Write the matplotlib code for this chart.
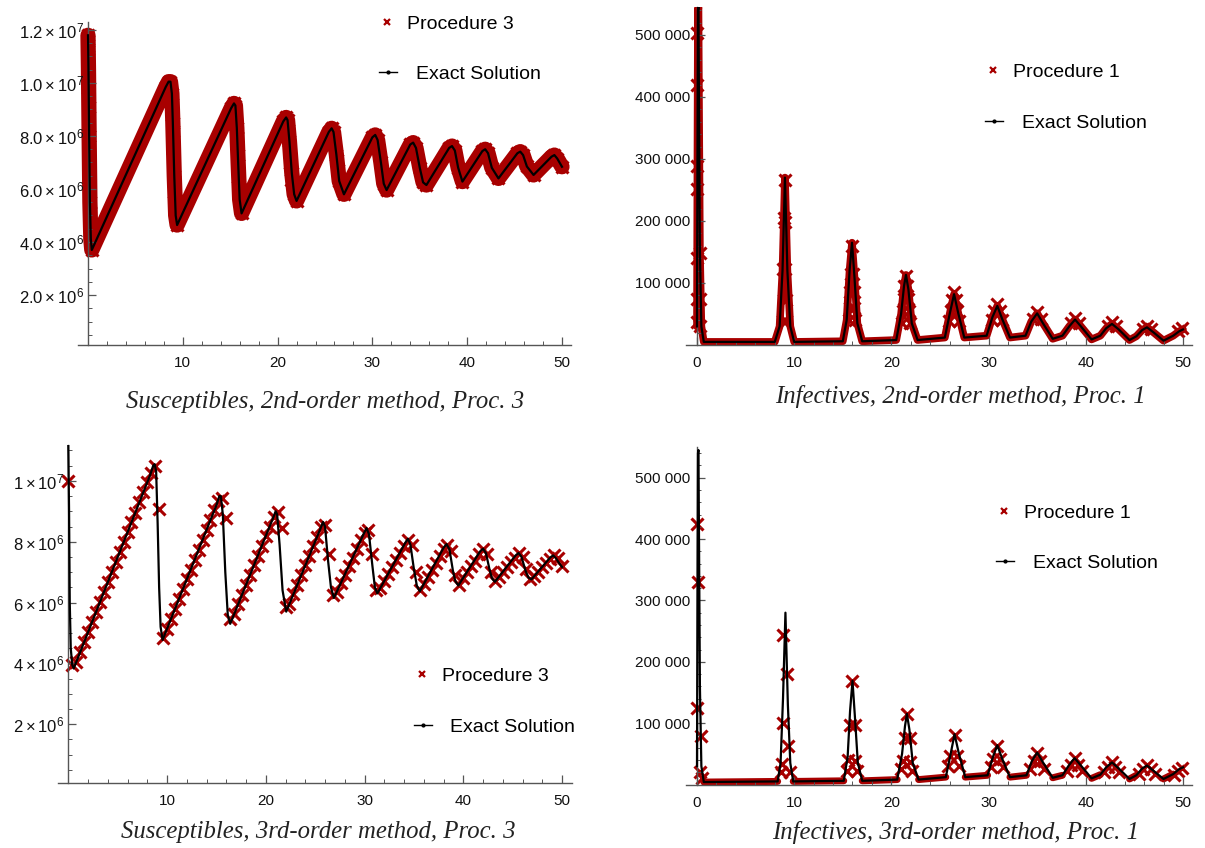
import numpy as np
import matplotlib.pyplot as plt
from matplotlib.lines import Line2D
from matplotlib.ticker import MultipleLocator

plt.rcParams['font.family'] = ['Liberation Sans', 'DejaVu Sans']
plt.rcParams['mathtext.fontset'] = 'custom'
plt.rcParams['mathtext.rm'] = 'Liberation Sans'
plt.rcParams['mathtext.it'] = 'Liberation Sans:italic'

RED = '#a80000'

# ---------------- data ----------------
# top left: susceptibles, 2nd-order (values in millions)
t_ex_a = [0, 0.05, 0.12, 0.2, 0.3, 0.4, 8.2, 8.5, 8.7, 8.85, 8.95, 9.1, 9.25, 9.4,
          15.1, 15.4, 15.55, 15.7, 15.85, 16.0, 16.2, 20.6, 20.9, 21.05, 21.25, 21.5,
          21.75, 22.0, 25.4, 25.7, 25.9, 26.2, 26.5, 27.0, 30.0, 30.3, 30.55, 30.9,
          31.2, 31.5, 34.0, 34.3, 34.6, 35.0, 35.35, 35.7, 38.1, 38.4, 38.7, 39.05,
          39.5, 41.6, 41.9, 42.2, 42.6, 43.3, 45.3, 45.6, 45.9, 46.3, 47.0, 48.9,
          49.2, 49.5, 50.0]
s_ex_a = [11.8, 10.5, 8.0, 5.5, 4.1, 3.7, 9.85, 10.05, 10.05, 9.6, 8.5, 6.5, 5.0, 4.64,
          9.05, 9.23, 9.15, 8.3, 6.9, 5.6, 5.08, 8.55, 8.7, 8.6, 7.8, 6.6,
          5.8, 5.55, 8.15, 8.29, 8.15, 7.3, 6.3, 5.8, 7.95, 8.04, 7.85, 7.0,
          6.2, 5.96, 7.68, 7.75, 7.55, 6.8, 6.25, 6.15, 7.55, 7.62, 7.45, 6.8,
          6.28, 7.43, 7.5, 7.35, 6.8, 6.4, 7.35, 7.41, 7.28, 6.85, 6.53, 7.22,
          7.28, 7.15, 6.84]
t_pts_a = [0.0, 0.01, 0.02, 0.03, 0.04, 0.05, 0.07, 0.1, 0.15, 0.2, 0.28,
           8.9, 8.93, 8.97, 9.05, 9.12, 9.18, 15.75, 15.8, 15.85, 15.95,
           21.3, 21.4, 26.3, 26.4]
s_pts_a = [11.6, 11.3, 11.0, 10.6, 10.35, 9.8, 9.1, 8.0, 6.4, 5.1, 4.2,
           8.8, 8.2, 7.5, 6.3, 5.9, 5.2, 7.97, 7.28, 6.46, 5.8,
           6.97, 6.34, 7.1, 6.7]

# top right: infectives, 2nd-order (values in 1e5)
t_ex_b = [0, 0.05, 0.1, 0.15, 0.2, 0.3, 0.45, 0.7, 8.0, 8.5, 8.8, 9.05, 9.3, 9.6, 10.0,
          15.0, 15.4, 15.7, 15.95, 16.2, 16.5, 17.0, 20.5, 21.0, 21.3, 21.5, 21.75,
          22.1, 22.7, 25.5, 26.0, 26.45, 26.9, 27.5, 29.8, 30.4, 30.9, 31.4, 32.2,
          33.8, 34.4, 35.0, 35.6, 36.6, 37.6, 38.3, 38.9, 39.5, 40.6, 41.5, 42.1,
          42.7, 43.4, 44.5, 45.2, 45.8, 46.3, 47.0, 48.0, 49.0, 49.6, 50.0]
i_ex_b = [0.3, 3.0, 5.4, 5.45, 4.0, 1.5, 0.3, 0.05, 0.05, 0.3, 1.2, 2.7, 1.2, 0.3, 0.05,
          0.06, 0.4, 1.2, 1.65, 1.1, 0.35, 0.06, 0.08, 0.5, 0.95, 1.13, 0.9,
          0.35, 0.08, 0.12, 0.5, 0.82, 0.5, 0.12, 0.15, 0.45, 0.63, 0.42, 0.12,
          0.15, 0.38, 0.51, 0.35, 0.1, 0.15, 0.3, 0.41, 0.3, 0.09, 0.15, 0.27,
          0.34, 0.25, 0.08, 0.14, 0.24, 0.285, 0.2, 0.07, 0.15, 0.22, 0.25]
t_pts_b = [0.0, 0.02, 0.05, 0.0, 0.0, 0.3, 0.0, 0.3, 0.0, 0.35,
           9.05, 8.95, 9.1, 8.9, 9.1, 8.95, 9.15, 8.9, 9.2,
           15.95, 15.8, 16.05, 15.75, 16.15, 15.7, 16.2, 15.6, 16.3,
           21.5, 21.35, 21.65, 21.3, 21.75, 21.2, 21.85, 21.1, 21.95,
           26.45, 26.2, 26.7, 26.1, 26.8, 25.9, 27.0,
           30.9, 30.6, 31.2, 30.4, 31.4, 35.0, 34.6, 35.4, 38.9, 38.5, 39.3,
           42.7, 42.3, 43.1, 46.3, 45.9, 46.7, 49.9, 49.5]
i_pts_b = [5.04, 4.2, 2.89, 2.52, 1.4, 1.48, 0.74, 0.74, 0.37, 0.3,
           2.66, 2.05, 1.98, 1.22, 1.22, 0.73, 0.73, 0.38, 0.38,
           1.6, 1.15, 1.15, 0.85, 0.85, 0.6, 0.6, 0.4, 0.4,
           1.12, 0.95, 0.95, 0.75, 0.75, 0.55, 0.55, 0.35, 0.35,
           0.85, 0.72, 0.72, 0.55, 0.55, 0.38, 0.38,
           0.66, 0.55, 0.55, 0.4, 0.4, 0.54, 0.42, 0.42, 0.44, 0.35, 0.35,
           0.37, 0.3, 0.3, 0.31, 0.26, 0.26, 0.27, 0.22]

# bottom left: susceptibles, 3rd-order (values in millions)
t_ex_c = [0, 0.08, 0.15, 0.25, 0.4, 0.55, 8.3, 8.6, 8.75, 8.9, 9.05, 9.2, 9.35, 9.55,
          15.0, 15.3, 15.45, 15.65, 15.9, 16.15, 16.4, 20.7, 21.0, 21.15, 21.4, 21.7,
          22.07, 25.5, 25.8, 26.0, 26.3, 26.6, 26.9, 29.9, 30.2, 30.45, 30.8, 31.05,
          31.3, 34.1, 34.4, 34.65, 35.0, 35.3, 35.6, 38.0, 38.3, 38.6, 38.95, 39.2,
          39.5, 41.7, 42.0, 42.3, 42.65, 42.9, 43.2, 45.3, 45.6, 45.9, 46.3, 46.6,
          46.9, 48.8, 49.1, 49.4, 49.7, 50.0]
s_ex_c = [11.2, 9.0, 6.0, 4.5, 3.95, 3.83, 10.2, 10.5, 10.55, 10.3, 8.6, 6.5, 5.2, 4.77,
          9.2, 9.5, 9.5, 8.9, 7.0, 5.6, 5.3, 8.75, 9.0, 8.9, 7.9, 6.4,
          5.7, 8.4, 8.65, 8.5, 7.4, 6.5, 6.15, 8.25, 8.45, 8.25, 7.2, 6.5,
          6.3, 7.95, 8.1, 7.9, 7.1, 6.55, 6.37, 7.8, 7.92, 7.75, 7.05, 6.7,
          6.56, 7.68, 7.77, 7.62, 7.1, 6.8, 6.68, 7.55, 7.63, 7.5, 7.05, 6.82,
          6.76, 7.48, 7.55, 7.45, 7.3, 7.17]
# procedure 3 points, one every 0.4 time units from t = 0
dt_c = 0.4
s_pts_c = [10.0, 3.95, 4.04, 4.37, 4.70, 5.03, 5.36, 5.68, 6.01, 6.34,
           6.67, 6.99, 7.32, 7.65, 7.98, 8.31, 8.64, 8.96, 9.29, 9.62,
           9.95, 10.27, 10.50, 9.06, 4.85, 5.13, 5.46, 5.78, 6.11, 6.44,
           6.76, 7.08, 7.41, 7.73, 8.05, 8.38, 8.70, 9.03, 9.35, 9.45,
           8.77, 5.45, 5.62, 5.94, 6.26, 6.58, 6.90, 7.22, 7.54, 7.86,
           8.18, 8.50, 8.82, 8.97, 8.45, 5.85, 5.96, 6.28, 6.59, 6.91,
           7.22, 7.54, 7.86, 8.17, 8.50, 8.55, 7.60, 6.25, 6.36, 6.64,
           6.92, 7.20, 7.48, 7.76, 8.04, 8.30, 8.40, 7.60, 6.40, 6.47,
           6.71, 6.94, 7.17, 7.40, 7.64, 7.87, 8.05, 7.90, 7.00, 6.40,
           6.60, 6.83, 7.06, 7.29, 7.52, 7.75, 7.90, 7.70, 6.90, 6.58,
           6.80, 7.00, 7.19, 7.38, 7.58, 7.75, 7.60, 7.00, 6.70, 6.85,
           7.00, 7.16, 7.32, 7.48, 7.62, 7.50, 7.10, 6.78, 6.87, 7.01,
           7.16, 7.30, 7.44, 7.55, 7.45, 7.20]

# bottom right: infectives, 3rd-order (values in 1e5)
t_ex_d = [0, 0.05, 0.1, 0.15, 0.2, 0.3, 0.45, 0.7, 8.3, 8.6, 8.85, 9.1, 9.35, 9.6, 9.9,
          15.1, 15.5, 15.75, 16.0, 16.25, 16.55, 17.0, 20.6, 21.1, 21.4, 21.6, 21.85,
          22.2, 22.8, 25.6, 26.1, 26.5, 26.95, 27.6, 29.9, 30.45, 30.9, 31.4, 32.2,
          33.9, 34.45, 35.0, 35.6, 36.6, 37.6, 38.25, 38.85, 39.5, 40.6, 41.5, 42.1,
          42.7, 43.4, 44.5, 45.2, 45.8, 46.3, 47.0, 48.0, 49.0, 49.6, 50.0]
i_ex_d = [0.3, 3.0, 5.4, 5.45, 4.2, 1.6, 0.3, 0.04, 0.05, 0.35, 1.4, 2.8, 1.3, 0.35, 0.05,
          0.06, 0.45, 1.2, 1.69, 1.1, 0.35, 0.06, 0.08, 0.5, 0.95, 1.15, 0.9,
          0.35, 0.08, 0.12, 0.5, 0.82, 0.5, 0.12, 0.15, 0.45, 0.64, 0.42, 0.12,
          0.15, 0.38, 0.52, 0.36, 0.11, 0.15, 0.31, 0.43, 0.31, 0.1, 0.16, 0.28,
          0.36, 0.26, 0.09, 0.15, 0.26, 0.31, 0.22, 0.09, 0.17, 0.25, 0.28]
t_pts_d = [0.0, 0.1, 0.0, 0.4, 0.35, 0.55,
           8.88, 9.23, 8.8, 9.4, 8.7, 8.6, 9.55,
           15.98, 15.74, 16.25, 15.57, 16.25, 15.4, 16.45,
           21.6, 21.4, 21.9, 21.2, 21.9, 21.0, 22.1,
           26.5, 26.0, 26.75, 25.85, 26.95,
           30.9, 30.5, 31.2, 30.2, 31.5,
           35.0, 34.7, 35.3, 34.3, 35.7,
           38.9, 38.5, 39.2, 38.1, 39.6,
           42.7, 42.3, 43.0, 41.9, 43.4,
           46.3, 45.9, 46.7, 45.5, 47.1,
           49.9, 49.5, 49.1]
i_pts_d = [4.25, 3.3, 1.24, 0.79, 0.2, 0.1,
           2.43, 1.8, 1.01, 0.62, 0.33, 0.2, 0.2,
           1.69, 0.97, 0.97, 0.4, 0.39, 0.22, 0.22,
           1.15, 0.75, 0.75, 0.39, 0.36, 0.25, 0.22,
           0.8, 0.47, 0.47, 0.3, 0.3,
           0.62, 0.41, 0.41, 0.28, 0.28,
           0.52, 0.38, 0.38, 0.25, 0.25,
           0.43, 0.32, 0.32, 0.22, 0.22,
           0.36, 0.28, 0.28, 0.2, 0.2,
           0.31, 0.25, 0.25, 0.17, 0.17,
           0.27, 0.22, 0.16]

# ticks and captions
xt_left = [10, 20, 30, 40, 50]
xt_right = [0, 10, 20, 30, 40, 50]
yt_a = [2e6, 4e6, 6e6, 8e6, 1.0e7, 1.2e7]
yl_a = [r'$2.0\times10^{6}$', r'$4.0\times10^{6}$', r'$6.0\times10^{6}$',
        r'$8.0\times10^{6}$', r'$1.0\times10^{7}$', r'$1.2\times10^{7}$']
yt_c = [2e6, 4e6, 6e6, 8e6, 1e7]
yl_c = [r'$2\times10^{6}$', r'$4\times10^{6}$', r'$6\times10^{6}$',
        r'$8\times10^{6}$', r'$1\times10^{7}$']
yt_i = [100000, 200000, 300000, 400000, 500000]
yl_i = ['100 000', '200 000', '300 000', '400 000', '500 000']
captions = ['Susceptibles, 2nd-order method, Proc. 3',
            'Infectives, 2nd-order method, Proc. 1',
            'Susceptibles, 3rd-order method, Proc. 3',
            'Infectives, 3rd-order method, Proc. 1']
proc_labels = ['Procedure 3', 'Procedure 1', 'Procedure 3', 'Procedure 1']

# ---------------- figure ----------------
W, H = 1205, 848
fig = plt.figure(figsize=(W / 100, H / 100), dpi=100)


def px_axes(x0, x1, y_top, y_bot):
    return fig.add_axes([x0 / W, 1 - y_bot / H, (x1 - x0) / W, (y_bot - y_top) / H])


def style(ax, xlim, ylim, xt, yt, yl, yminor, ysize, ypad):
    ax.set_xlim(*xlim)
    ax.set_ylim(*ylim)
    ax.set_axisbelow(False)
    for s in ['top', 'right']:
        ax.spines[s].set_visible(False)
    ax.spines['left'].set_position(('data', 0))
    for s in ['left', 'bottom']:
        ax.spines[s].set_color('#555555')
        ax.spines[s].set_linewidth(1.0)
    ax.set_xticks(xt)
    ax.set_xticklabels([str(v) for v in xt])
    ax.set_yticks(yt)
    ax.set_yticklabels(yl)
    ax.xaxis.set_minor_locator(MultipleLocator(2))
    ax.yaxis.set_minor_locator(MultipleLocator(yminor))
    ax.tick_params(which='major', direction='in', length=6, width=0.9,
                   color='#555555', labelcolor='#111111')
    ax.tick_params(which='minor', direction='in', length=3, width=0.7,
                   color='#555555')
    ax.tick_params(axis='x', which='major', labelsize=11, pad=8)
    ax.tick_params(axis='y', which='major', labelsize=ysize, pad=ypad)
    ax.patch.set_alpha(0)


def legends(ax, label, xm, y1, y2):
    fs = 14
    em = fs * 100 / 72
    h1 = Line2D([], [], ls='none', marker='x', ms=5, mew=1.6, color=RED)
    h2 = Line2D([], [], color='black', lw=1.0, marker='o', ms=2)
    lg1 = ax.legend([h1], [label], loc='center left',
                    bbox_to_anchor=((xm - em / 2) / W, 1 - y1 / H),
                    bbox_transform=fig.transFigure, frameon=False, borderpad=0,
                    borderaxespad=0, handlelength=1.0, handletextpad=(20 - em / 2) / em,
                    fontsize=fs, numpoints=1)
    ax.add_artist(lg1)
    ax.legend([h2], ['Exact Solution'], loc='center left',
              bbox_to_anchor=((xm - 8) / W, 1 - y2 / H),
              bbox_transform=fig.transFigure, frameon=False, borderpad=0,
              borderaxespad=0, handlelength=18 / em, handletextpad=19 / em,
              fontsize=fs, numpoints=1)


mk = dict(ls='none', marker='x', ms=9, mew=2.2, color=RED, zorder=2)

# top left
ax = px_axes(78.05, 570.5, 22.05, 345.35)
sa = np.array(s_ex_a) * 1e6
ax.plot(t_ex_a, sa, color=RED, lw=11, solid_joinstyle='round',
        solid_capstyle='round', zorder=1)
ax.plot(t_ex_a, sa, **mk)
ax.plot(t_pts_a, np.array(s_pts_a) * 1e6, **mk)
ax.plot(t_ex_a, sa, color='black', lw=1.6, zorder=3)
style(ax, (-1.05, 50.9), (0.1e6, 12.3e6), xt_left, yt_a, yl_a, 0.5e6, 12, 3)
legends(ax, proc_labels[0], 387, 24, 74)

# top right
ax = px_axes(686.3, 1191.7, 7.1, 345)
ib = np.array(i_ex_b) * 1e5
ax.plot(t_ex_b, ib, color=RED, lw=5.5, solid_joinstyle='round',
        solid_capstyle='round', zorder=1)
ax.plot(t_pts_b, np.array(i_pts_b) * 1e5, **mk)
ax.plot(t_ex_b, ib, color='black', lw=1.6, zorder=3)
style(ax, (-1.1, 50.9), (0, 5.45e5), xt_right, yt_i, yl_i, 20000, 11, 5)
legends(ax, proc_labels[1], 993, 72, 123)

# bottom left
ax = px_axes(58.4, 571.9, 445, 783)
t_pts_c = dt_c * np.arange(len(s_pts_c))
ax.plot(t_pts_c, np.array(s_pts_c) * 1e6, **mk)
ax.plot(t_ex_c, np.array(s_ex_c) * 1e6, color='black', lw=1.6, zorder=3)
style(ax, (-1.0, 51.0), (0.066e6, 11.18e6), xt_left, yt_c, yl_c, 0.5e6, 12, 3)
legends(ax, proc_labels[2], 421.5, 676, 727)

# bottom right
ax = px_axes(686.3, 1191.7, 447, 784.5)
idd = np.array(i_ex_d) * 1e5
band_d = np.where(idd > 0.2e5, np.nan, idd)
ax.plot(t_ex_d, band_d, color=RED, lw=5, solid_capstyle='round', zorder=1)
ax.plot(t_pts_d, np.array(i_pts_d) * 1e5, **mk)
ax.plot(t_ex_d, idd, color='black', lw=1.6, zorder=3)
style(ax, (-1.1, 50.9), (0, 5.5e5), xt_right, yt_i, yl_i, 20000, 11, 5)
legends(ax, proc_labels[3], 1004, 513, 563)

# captions
for (cx, cy), txt in zip([(325, 402), (960, 396), (318, 832), (956, 832)], captions):
    fig.text(cx / W, 1 - cy / H, txt, ha='center', va='center', fontsize=17.8,
             family='Liberation Serif', style='italic', color='#222222')

fig.savefig('out.png', dpi=100)
